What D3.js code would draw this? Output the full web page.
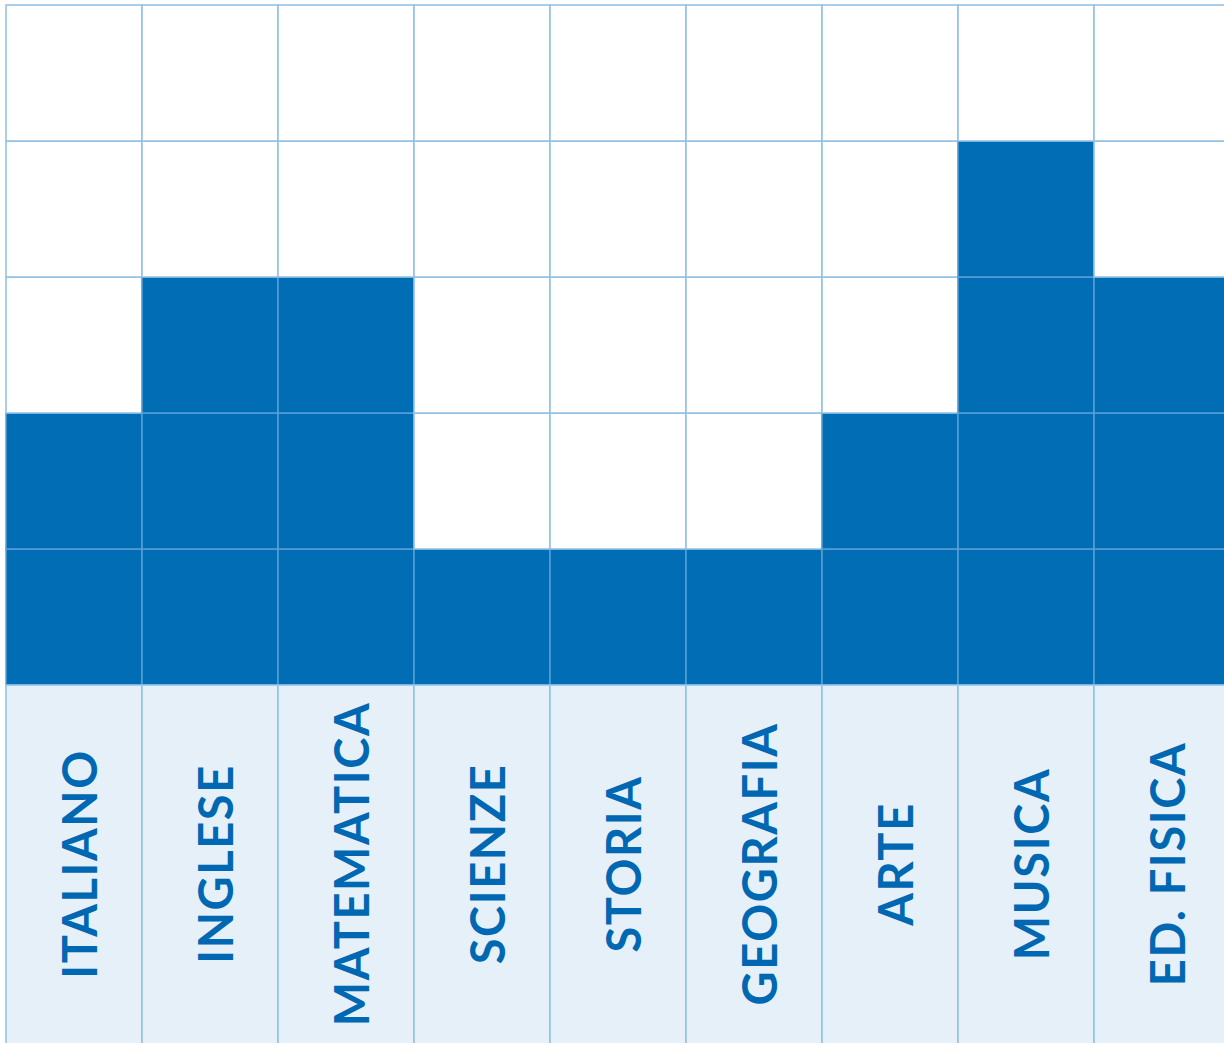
<!DOCTYPE html>
<html>
<head>
<meta charset="utf-8">
<script src="https://cdn.jsdelivr.net/npm/d3@7"></script>
<style>
  body { margin: 0; background: #fff; }
  svg { display: block; }
</style>
</head>
<body>
<div class="chart-container"></div>
<script>
// Data
const subjects = ['ITALIANO', 'INGLESE', 'MATEMATICA', 'SCIENZE', 'STORIA', 'GEOGRAFIA', 'ARTE', 'MUSICA', 'ED. FISICA'];
const hours = [2, 3, 3, 1, 1, 1, 2, 4, 3];
const levels = [1, 2, 3, 4, 5];

const svgWidth = 1224;
const svgHeight = 1043;
const gridLeft = 6, gridTop = 5, cell = 136;
const gridBottom = gridTop + cell * levels.length;

const svg = d3.select('.chart-container')
    .append('svg')
    .attr('width', svgWidth)
    .attr('height', svgHeight);

// Scales
const xScale = d3.scaleBand()
    .domain(subjects)
    .range([gridLeft, gridLeft + cell * subjects.length]);

const yScale = d3.scaleLinear()
    .domain([0, levels.length])
    .range([gridBottom, gridTop]);

const cells = [];
subjects.forEach((s, i) => {
    levels.forEach(l => cells.push({ subject: s, level: l, on: l <= hours[i] }));
});

// Grid cells
svg.selectAll('.cell')
    .data(cells)
    .enter()
    .append('rect')
    .attr('class', 'cell')
    .attr('x', d => xScale(d.subject))
    .attr('y', d => yScale(d.level))
    .attr('width', xScale.bandwidth())
    .attr('height', d => yScale(d.level - 1) - yScale(d.level))
    .style('fill', d => d.on ? '#006db5' : '#ffffff')
    .style('stroke', d => d.on ? '#5a9fd6' : '#8ec0e6')
    .style('stroke-width', 1.5);

// Label panel
svg.selectAll('.label-bg')
    .data(subjects)
    .enter()
    .append('rect')
    .attr('class', 'label-bg')
    .attr('x', d => xScale(d))
    .attr('y', gridBottom)
    .attr('width', xScale.bandwidth())
    .attr('height', svgHeight - gridBottom + 10)
    .style('fill', '#e6f0f8')
    .style('stroke', '#8ec0e6')
    .style('stroke-width', 1.5);

const labelMid = (gridBottom + svgHeight) / 2;

svg.selectAll('.label')
    .data(subjects)
    .enter()
    .append('text')
    .attr('class', 'label')
    .attr('transform', d => 'translate(' + (xScale(d) + xScale.bandwidth() / 2 + 23) + ',' + labelMid + ') rotate(-90)')
    .attr('text-anchor', 'middle')
    .style('font-family', 'Lato, "Open Sans", sans-serif')
    .style('font-weight', 'bold')
    .style('font-size', '47px')
    .style('letter-spacing', '1.6px')
    .style('fill', '#0068b3')
    .text(d => d);
</script>
</body>
</html>
